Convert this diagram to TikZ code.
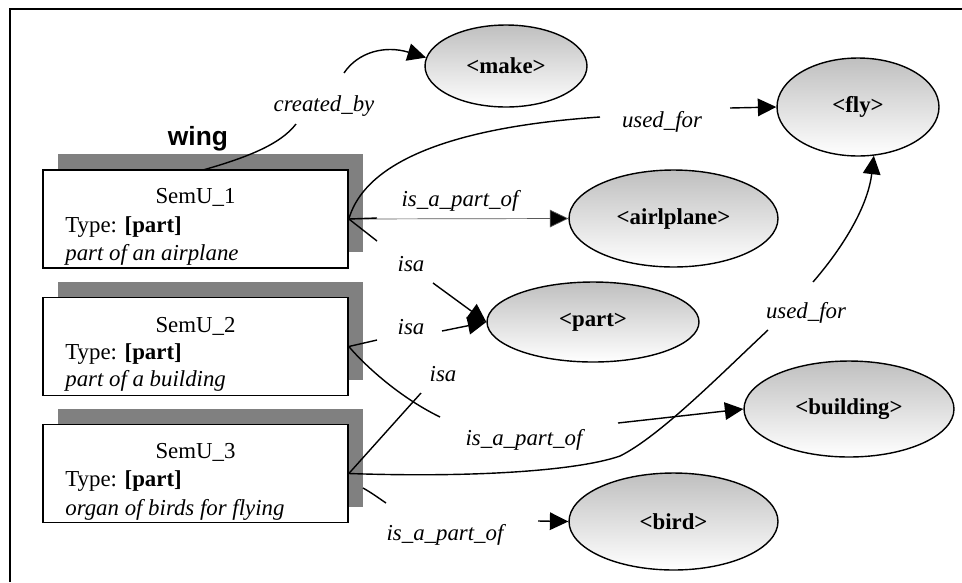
\documentclass[tikz,border=0pt]{standalone}
\usepackage{fontspec}
\setmainfont{Liberation Serif}
\newfontfamily\wingfont{Liberation Sans}
\usetikzlibrary{arrows.meta,shapes.geometric,shadows}
\begin{document}
\begin{tikzpicture}[x=0.02cm,y=-0.02cm,
  semubox/.style={draw,line width=1pt,fill=white,minimum width=6.1cm,minimum height=1.96cm,inner sep=0pt,
    general shadow={shadow xshift=0.3cm,shadow yshift=0.32cm,fill=gray}},
  concept/.style={ellipse,draw,line width=0.8pt,top color=gray!50,bottom color=white,
    font=\fontsize{13}{15}\selectfont\bfseries,inner sep=0pt},
  elabel/.style={font=\fontsize{13}{15}\selectfont\itshape,anchor=base,inner sep=0pt},
  ctext/.style={font=\fontsize{13}{15}\selectfont,anchor=base,inner sep=0pt},
  btext/.style={font=\fontsize{13}{15}\selectfont,anchor=base west,inner sep=0pt},
  conn/.style={line width=0.8pt},
  tipped/.style={conn,-{Triangle[length=10.5pt,width=10pt]}},
  thinconn/.style={line width=0.4pt,draw=gray!70!black,-{Triangle[length=10.5pt,width=10pt,fill=black]}}
]
\useasboundingbox (0,0) rectangle (962,582);
% frame
\draw[line width=1.1pt] (10,582) -- (10,9) -- (962,9);

% SemU boxes
\node[semubox] (s1) at (195.5,219) {};
\node[semubox] (s2) at (195.5,346.5) {};
\node[semubox] (s3) at (195.5,473.5) {};

\node[ctext] (s1t) at (195.5,203) {SemU\_1};
\node[btext] (s1y) at (65,232) {Type: \textbf{[part]}};
\node[btext] (s1d) at (65,260) {\itshape part of an airplane};
\node[ctext] (s2t) at (195.5,332) {SemU\_2};
\node[btext] (s2y) at (65,359) {Type: \textbf{[part]}};
\node[btext] (s2d) at (65,386) {\itshape part of a building};
\node[ctext] (s3t) at (195.5,458) {SemU\_3};
\node[btext] (s3y) at (65,486) {Type: \textbf{[part]}};
\node[btext] (s3d) at (65,515) {\itshape organ of birds for flying};

\node[font=\wingfont\fontsize{15}{18}\selectfont\bfseries,anchor=base,inner sep=0pt] (wing) at (198,145) {wing};

% concept ellipses
\node[concept,minimum width=3.24cm,minimum height=1.64cm] (make) at (506,66) {<make>};
\node[concept,minimum width=3.24cm,minimum height=1.96cm] (fly) at (858,107) {<fly>};
\node[concept,minimum width=4.18cm,minimum height=1.94cm] (airplane) at (673.5,218.5) {<airlplane>};
\node[concept,minimum width=4.24cm,minimum height=1.6cm] (part) at (593,322) {<part>};
\node[concept,minimum width=4.2cm,minimum height=1.92cm] (building) at (849,409) {<building>};
\node[concept,minimum width=4.18cm,minimum height=1.94cm] (bird) at (673.5,521.5) {<bird>};

% edge labels
\node[elabel] (lcb) at (324,111) {created\_by};
\node[elabel] (luf1) at (662,127) {used\_for};
\node[elabel] (lip1) at (460,206) {is\_a\_part\_of};
\node[elabel] (lisa1) at (411,271) {isa};
\node[elabel] (lisa2) at (411,334) {isa};
\node[elabel] (lisa3) at (443,381) {isa};
\node[elabel] (luf2) at (806,318) {used\_for};
\node[elabel] (lip2) at (524,445) {is\_a\_part\_of};
\node[elabel] (lip3) at (445,540) {is\_a\_part\_of};

% free ends of the broken connectors
\coordinate (e1a) at (203,170);
\coordinate (e1b) at (296,124);
\coordinate (e1c) at (344,73);
\coordinate (e2a) at (600,117);
\coordinate (e2b) at (730,108);
\coordinate (e3a) at (377,218);
\coordinate (e4a) at (377,241);
\coordinate (e4b) at (433,283);
\coordinate (e5a) at (377,340);
\coordinate (e5b) at (442,331);
\coordinate (e6a) at (421,393);
\coordinate (e7a) at (440,417);
\coordinate (e7b) at (618,423);
\coordinate (e8a) at (768,330);
\coordinate (e8b) at (813,282);
\coordinate (e9a) at (363,488);
\coordinate (e9b) at (386,503);
\coordinate (e9c) at (538,521);

% created_by
\draw[conn] (e1a) .. controls (245,158) and (280,145) .. (e1b);
\draw[tipped] (e1c) .. controls (358,52) and (385,45) .. (make.174);
% used_for (SemU_1)
\draw[conn] (s1.east) .. controls (360,180) and (410,130) .. (e2a);
\draw[tipped] (e2b) -- (fly.west);
% is_a_part_of (SemU_1)
\draw[thinconn] (s1.east) -- (airplane.west);
\draw[conn] (s1.east) -- (e3a);
% isa
\draw[conn] (s1.east) -- (e4a);
\draw[tipped] (e4b) -- (part.west);
\draw[conn] (s2.east) -- (e5a);
\draw[tipped] (e5b) -- (part.west);
\draw[conn] (s3.east) -- (e6a);
% is_a_part_of (SemU_2)
\draw[conn] (s2.east) .. controls (360,360) and (395,395) .. (e7a);
\draw[tipped] (e7b) -- (building.west);
% used_for (SemU_3)
\draw[conn] (s3.east) .. controls (480,478) and (580,470) .. (620,456)
  .. controls (660,436) and (720,375) .. (e8a);
\draw[tipped] (e8b) .. controls (845,245) and (868,205) .. (fly.288);
% is_a_part_of (SemU_3)
\draw[conn] (e9a) .. controls (372,493) and (380,499) .. (e9b);
\draw[tipped] (e9c) -- (bird.west);
\end{tikzpicture}
\end{document}
